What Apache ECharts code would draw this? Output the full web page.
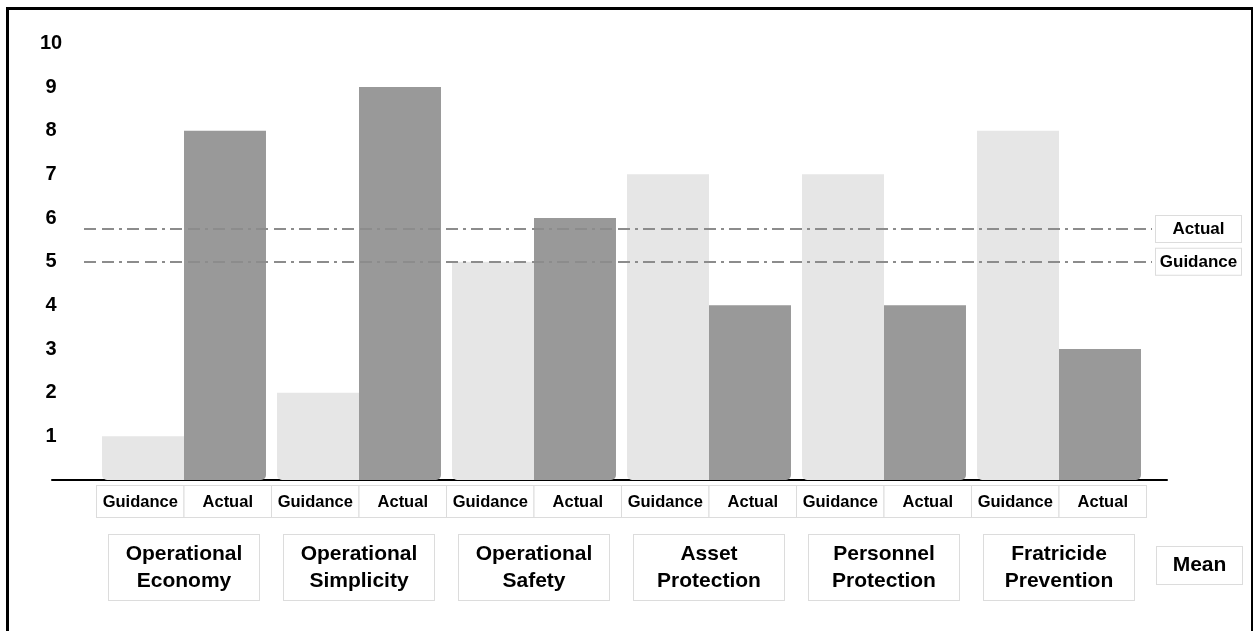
<!DOCTYPE html>
<html><head><meta charset="utf-8">
<script src="https://cdn.jsdelivr.net/npm/echarts@6/dist/echarts.min.js"></script>
<style>
html,body{margin:0;padding:0;background:#fff}
#wrap{position:relative;width:1254px;height:631px;overflow:hidden}
#c{width:1254px;height:631px}
#frame{position:absolute;left:6px;top:7px;width:1247px;height:700px;border-top:3px solid #000;border-left:3px solid #000;border-right:2px solid #000;box-sizing:border-box;pointer-events:none}
</style></head><body>
<div id="wrap"><div id="c"></div><div id="frame"></div></div>
<script>
const groups = ['Operational\nEconomy', 'Operational\nSimplicity', 'Operational\nSafety', 'Asset\nProtection', 'Personnel\nProtection', 'Fratricide\nPrevention'];
const seriesNames = ['Guidance', 'Actual'];
const guidance = [1, 2, 5, 7, 7, 8];
const actual = [8, 9, 6, 4, 4, 3];
const meanGuidance = 5;
const meanActual = 5.75;
const meanLabel = 'Mean';
const yMin = 0, yMax = 10, yInterval = 1;

const subLabels = [];
groups.forEach(() => seriesNames.forEach(s => subLabels.push(s)));
const FONT = '"Liberation Sans", Arial, sans-serif';
const BOX = '#dcdcdc';

const chart = echarts.init(document.getElementById('c'));
const gridTop = 43.33, gridH = 436.67;
chart.setOption({
  animation: false,
  textStyle: { fontFamily: FONT },
  grid: [
    { left: 96.5, top: gridTop, width: 1050, height: gridH },
    { left: 52, top: gridTop, width: 1115, height: gridH },
    { left: 84, top: gridTop, width: 1068, height: gridH }
  ],
  xAxis: [
    { type: 'category', gridIndex: 0, data: groups, position: 'bottom',
      axisLine: { show: false }, axisTick: { show: false },
      axisLabel: { interval: 0, margin: 55, fontSize: 21, fontWeight: 'bold', lineHeight: 27, color: '#000', fontFamily: FONT,
        width: 150, align: 'center', padding: [6, 0, 5, 0], backgroundColor: '#fff', borderColor: BOX, borderWidth: 1 } },
    { type: 'category', gridIndex: 0, data: subLabels.map((s, i) => i), position: 'bottom',
      axisLine: { show: false }, axisTick: { show: false },
      axisLabel: { interval: 0, margin: 6, fontSize: 16.5, fontWeight: 'bold', lineHeight: 20, color: '#000', fontFamily: FONT,
        width: 86.5, align: 'center', padding: [6, 0, 5, 0], backgroundColor: '#fff', borderColor: BOX, borderWidth: 1,
        formatter: (v, i) => subLabels[i] } },
    { type: 'value', gridIndex: 1, min: 0, max: 1,
      axisLine: { show: true, lineStyle: { color: '#000', width: 2 } }, axisTick: { show: false },
      axisLabel: { show: false }, splitLine: { show: false } },
    { type: 'value', gridIndex: 2, min: 0, max: 1, show: false }
  ],
  yAxis: [
    { type: 'value', gridIndex: 0, min: yMin, max: yMax, interval: yInterval,
      axisLine: { show: false }, axisTick: { show: false }, splitLine: { show: false },
      axisLabel: { margin: 45.5, align: 'center', fontSize: 20, fontWeight: 'bold', color: '#000', fontFamily: FONT,
        formatter: v => (v === 0 ? '' : String(v)) } },
    { type: 'value', gridIndex: 1, min: yMin, max: yMax, show: false },
    { type: 'value', gridIndex: 2, min: yMin, max: yMax, show: false }
  ],
  series: [
    { name: seriesNames[0], type: 'bar', xAxisIndex: 0, yAxisIndex: 0, data: guidance,
      barGap: '0%', barCategoryGap: '6.3%', silent: true,
      itemStyle: { color: '#e6e6e6', borderRadius: [0, 0, 0, 5] } },
    { name: seriesNames[1], type: 'bar', xAxisIndex: 0, yAxisIndex: 0, data: actual,
      barGap: '0%', barCategoryGap: '6.3%', silent: true,
      itemStyle: { color: '#999999', borderRadius: [0, 0, 5, 0] } },
    { name: 'means', type: 'line', xAxisIndex: 3, yAxisIndex: 2, data: [], silent: true,
      markLine: {
        silent: true, symbol: ['none', 'none'],
        lineStyle: { color: '#8c8c8c', width: 2, type: [12, 6, 12, 5, 3, 5] },
        label: { position: 'end', distance: 4, formatter: '{t|{b}}', backgroundColor: '#fff', borderColor: BOX, borderWidth: 1,
          padding: [4, 0, 3, 0],
          rich: { t: { width: 85, align: 'center', fontSize: 17, fontWeight: 'bold', color: '#000', lineHeight: 19, fontFamily: FONT } } },
        data: [
          { name: seriesNames[1], yAxis: meanActual },
          { name: seriesNames[0], yAxis: meanGuidance }
        ]
      } }
  ],
  graphic: [
    { type: 'text', left: 1156, top: 546, silent: true,
      style: { text: '{t|' + meanLabel + '}', fill: '#000',
        backgroundColor: '#fff', borderColor: BOX, borderWidth: 1, padding: [8, 0, 8, 0],
        rich: { t: { width: 85, align: 'center', fontSize: 21, fontWeight: 'bold', fontFamily: FONT, lineHeight: 21, fill: '#000' } } } }
  ]
});
</script>
</body></html>
